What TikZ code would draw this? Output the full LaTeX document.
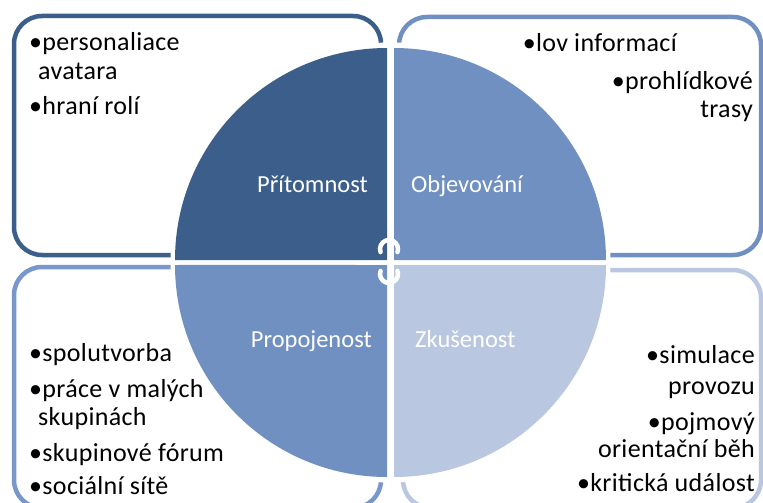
\documentclass[tikz,border=0pt]{standalone}
\usepackage{fontspec}
\setmainfont{Carlito}
\newfontfamily\bulfont[LetterSpace=1.3]{Carlito}
\definecolor{cdark}{HTML}{3B5E8B}
\definecolor{cmid}{HTML}{6F90C1}
\definecolor{cmidb}{HTML}{7898CB}
\definecolor{clight}{HTML}{B9C7E0}
\tikzset{
  box/.style={draw, line width=4.5pt, rounded corners=28pt, fill=white},
  bul/.style={font=\bulfont\fontsize{26}{30}\selectfont, inner sep=0pt, text=black},
  lab/.style={font=\fontsize{24.5}{28}\selectfont, inner sep=0pt, text=white},
  cyc/.style={draw=white, line width=4.5pt, line cap=round}
}
\begin{document}
\begin{tikzpicture}[x=1pt,y=-1pt]
\useasboundingbox (0,0) rectangle (763,503);
\clip (0,0) rectangle (763,503);
% corner boxes
\draw[box, draw=cdark] (14,16) rectangle (381,255);
\draw[box, draw=cmid] (399,17) rectangle (761,255);
\draw[box, draw=cmidb] (14,267) rectangle (381,508);
\draw[box, draw=clight] (403,270) rectangle (761,508);
% white ring
\draw[white, line width=8pt] (390.5,262.5) circle (216);
% quadrants
\fill[cdark] (387,260) -- (175,260) arc[start angle=180, end angle=270, radius=212] -- cycle;
\fill[cmid] (394,260) -- (394,48) arc[start angle=270, end angle=360, radius=212] -- cycle;
\fill[clight] (394,265) -- (606,265) arc[start angle=0, end angle=90, radius=212] -- cycle;
\fill[cmid] (387,265) -- (387,477) arc[start angle=90, end angle=180, radius=212] -- cycle;
% cycle arrows
\coordinate (cu) at (389,249);
\coordinate (cl) at (389,274);
\draw[cyc] ([shift={(160:9)}]cu) arc[start angle=160, end angle=380, radius=9];
\draw[cyc] ([shift={(200:9)}]cl) arc[start angle=200, end angle=-20, radius=9];
% labels
\node[lab, anchor=base east] (l1) at (368,192) {Přítomnost};
\node[lab, anchor=base west] (l2) at (411,192) {Objevování};
\node[lab, anchor=base east] (l3) at (372,347) {Propojenost};
\node[lab, anchor=base west] (l4) at (415,347) {Zkušenost};
% top-left items
\node[bul, anchor=base west] (a1) at (29,51) {•personaliace};
\node[bul, anchor=base west] (a2) at (38,79) {avatara};
\node[bul, anchor=base west] (a3) at (29,114) {•hraní rolí};
% top-right items
\node[bul, anchor=base east] (b1) at (677,52) {•lov informací};
\node[bul, anchor=base east] (b2) at (753,89) {•prohlídkové};
\node[bul, anchor=base east] (b3) at (753,117) {trasy};
% bottom-left items
\node[bul, anchor=base west] (c1) at (29,361) {•spolutvorba};
\node[bul, anchor=base west] (c2) at (29,397) {•práce v malých};
\node[bul, anchor=base west] (c3) at (38,425) {skupinách};
\node[bul, anchor=base west] (c4) at (29,461) {•skupinové fórum};
\node[bul, anchor=base west] (c5) at (29,494) {•sociální sítě};
% bottom-right items
\node[bul, anchor=base east] (d1) at (755,363) {•simulace};
\node[bul, anchor=base east] (d2) at (755,394) {provozu};
\node[bul, anchor=base east] (d3) at (755,430) {•pojmový};
\node[bul, anchor=base east] (d4) at (755,457) {orientační běh};
\node[bul, anchor=base east] (d5) at (755,491) {•kritická událost};
\end{tikzpicture}
\end{document}
